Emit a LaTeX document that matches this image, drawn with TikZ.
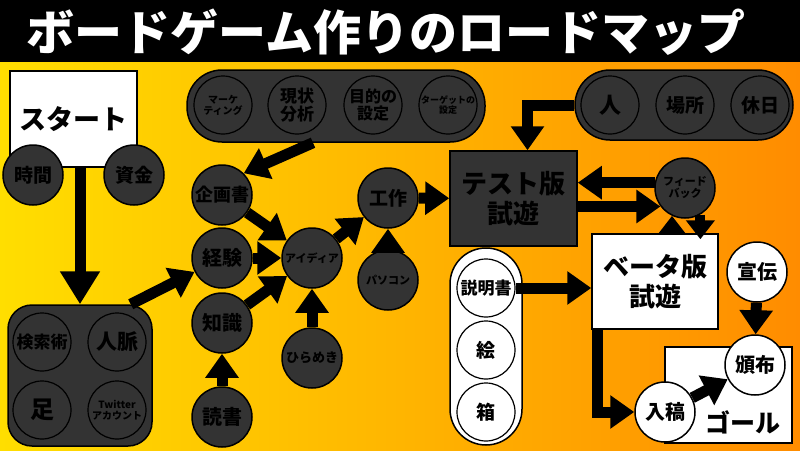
\documentclass[tikz,border=0pt]{standalone}
\usepackage{fontspec}
\setmainfont{Noto Sans CJK JP}
\usetikzlibrary{arrows.meta}
\definecolor{dk}{HTML}{333333}
\definecolor{bgl}{HTML}{FFDE00}
\definecolor{bgr}{HTML}{FF8C00}
\newcommand{\fsz}[1]{\fontsize{#1}{#1}\selectfont\bfseries}

\begin{document}
\begin{tikzpicture}[x=1pt,y=-1pt,
    dknode/.style={circle,draw,line width=1.5pt,fill=dk,text=black,minimum size=60pt,inner sep=0pt,align=center},
    wtnode/.style={circle,draw,line width=1.5pt,fill=white,minimum size=60pt,inner sep=0pt,align=center},
    ring/.style={circle,draw,line width=1.2pt,minimum size=58pt,inner sep=0pt,align=center,text=black},
    grp/.style={draw,line width=1.5pt,fill=dk,rounded corners=35pt},
    sqbox/.style={draw,line width=1.5pt,minimum width=127pt,minimum height=96pt,align=center},
    arr/.style={line width=11pt,-{Triangle[length=24pt,width=32pt]}},
    bigarr/.style={line width=11pt,-{Triangle[length=33pt,width=38pt]}},
    sarr/.style={line width=10pt,-{Triangle[length=19pt,width=28pt]}}]
    \useasboundingbox (0,0) rectangle (800,450);
    \shade[left color=bgl,right color=bgr] (0,0) rectangle (800,450);
    \fill[black] (0,0) rectangle (800,62);
    \node[text=white,font=\fsz{48}] (title) at (386,32) {ボードゲーム作りのロードマップ};

    \node[sqbox,fill=white,font=\fsz{27}] (start) at (73.5,119) {スタート};
    \node[dknode,font=\fsz{19}] (jikan) at (33,175) {時間};
    \node[dknode,font=\fsz{19}] (shikin) at (134,175) {資金};

    \node[grp,rounded corners=24pt,minimum width=144pt,minimum height=141pt] (skills) at (80,375.5) {};
    \node[ring,font=\fsz{17}] (kensaku) at (42,342) {検索術};
    \node[ring,font=\fsz{21}] (jinmyaku) at (117,342) {人脈};
    \node[ring,font=\fsz{24}] (ashi) at (42,410) {足};
    \node[ring,font=\fontsize{10}{11}\selectfont\bfseries] (twitter) at (117,410) {Twitter\\アカウント};

    \node[grp,minimum width=298pt,minimum height=72pt] (plan) at (336,106) {};
    \node[ring,font=\fontsize{10}{11}\selectfont\bfseries] (mkt) at (223,105) {マーケ\\ティング};
    \node[ring,font=\fontsize{17}{18}\selectfont\bfseries] (genjo) at (297,105) {現状\\分析};
    \node[ring,font=\fontsize{16}{17}\selectfont\bfseries] (mokuteki) at (373,105) {目的の\\設定};
    \node[ring,font=\fontsize{9}{10}\selectfont\bfseries] (target) at (448,105) {ターゲットの\\設定};

    \node[dknode,font=\fsz{18}] (kikaku) at (222,195) {企画書};
    \node[dknode,font=\fsz{20}] (keiken) at (222,258) {経験};
    \node[dknode,font=\fsz{20}] (chishiki) at (222,323) {知識};
    \node[dknode,font=\fsz{20}] (dokusho) at (222,417) {読書};
    \node[dknode,font=\fsz{11}] (idea) at (312,258) {アイディア};
    \node[dknode,font=\fsz{13}] (hirameki) at (312,358) {ひらめき};
    \node[dknode,font=\fsz{19}] (kousaku) at (388,198) {工作};
    \node[dknode,font=\fsz{11}] (pasokon) at (388,280) {パソコン};

    \node[sqbox,fill=dk,minimum height=95pt,font=\fontsize{26}{30}\selectfont\bfseries] (test) at (513.5,198.5) {テスト版\\試遊};

    \node[grp,minimum width=218pt,minimum height=70pt] (life) at (684,105) {};
    \node[ring,font=\fsz{22}] (hito) at (610,105) {人};
    \node[ring,font=\fsz{19}] (basho) at (685,105) {場所};
    \node[ring,font=\fsz{19}] (kyujitsu) at (760,105) {休日};

    \node[dknode,font=\fontsize{11}{12}\selectfont\bfseries] (fb) at (685,188) {フィード\\バック};
    \node[sqbox,fill=white,minimum width=126pt,minimum height=95pt,font=\fontsize{26}{30}\selectfont\bfseries] (beta) at (655,281.5) {ベータ版\\試遊};

    \node[grp,fill=white,rounded corners=36pt,minimum width=72pt,minimum height=197pt] (items) at (486,346.5) {};
    \node[ring,fill=white,font=\fsz{17}] (setsumei) at (486,288) {説明書};
    \node[ring,fill=white,font=\fsz{19}] (e) at (486,350) {絵};
    \node[ring,fill=white,font=\fsz{19}] (hako) at (486,412) {箱};

    \node[sqbox,fill=white] (goal) at (728.5,395) {};
    \node[font=\fsz{25}] (goaltxt) at (743,422) {ゴール};
    \node[wtnode,font=\fsz{20}] (nyuko) at (665,412) {入稿};
    \node[wtnode,font=\fsz{20}] (hanpu) at (755,365) {頒布};
    \node[wtnode,font=\fsz{20}] (senden) at (757,272) {宣伝};

    \draw[bigarr] (skills.north |- start.south) -- (skills.north);
    \draw[arr] ([xshift=-22pt]skills.north east) -- (keiken);
    \draw[arr] ([xshift=-23pt]plan.south) -- (kikaku.north east);
    \draw[arr] (kikaku) -- (idea);
    \draw[arr] (keiken) -- (idea);
    \draw[arr] (chishiki) -- (idea);
    \draw[arr] (hirameki) -- (idea);
    \draw[arr] (dokusho) -- (chishiki);
    \draw[arr] (idea) -- (kousaku);
    \draw[arr] (pasokon) -- (kousaku);
    \draw[arr] (kousaku) -- (test);
    \draw[arr] (life.west) -| ([xshift=14pt]test.north);
    \draw[arr] (fb.170) -- (fb.170 -| test.east);
    \draw[arr] (test.east |- fb.217) -- (fb.217);
    \draw[sarr] (beta.north -| fb.245) -- (fb.245);
    \draw[sarr] (fb.300) -- ([yshift=-6pt]fb.300 |- beta.north);
    \draw[arr] (setsumei.east) -- (setsumei.east -| beta.west);
    \draw[arr] ([xshift=6pt]beta.south west) |- (nyuko.west);
    \draw[arr] (senden) -- (hanpu);
    \draw[arr] (nyuko) -- (hanpu);
\end{tikzpicture}
\end{document}
